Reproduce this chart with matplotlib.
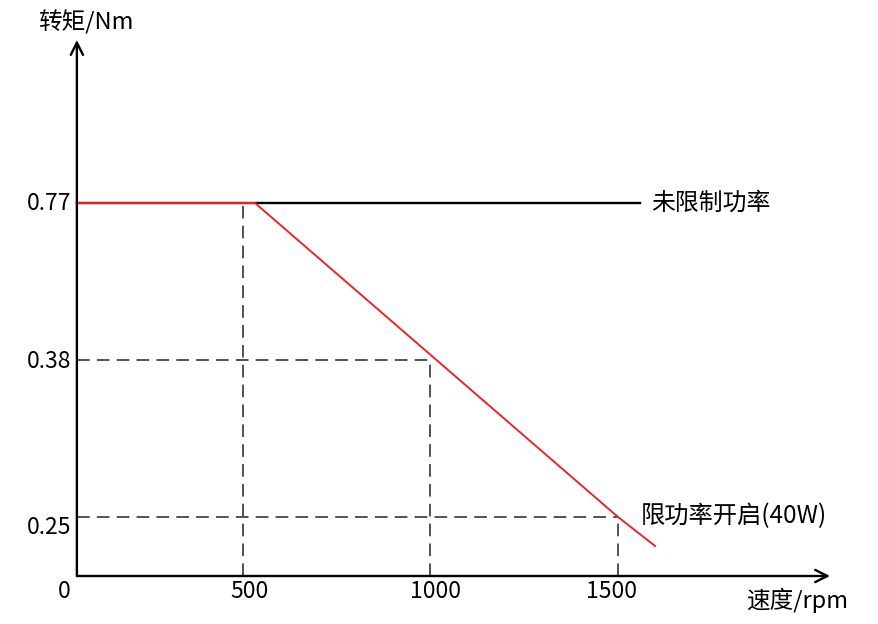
import numpy as np
import matplotlib
matplotlib.use("Agg")
import matplotlib.pyplot as plt

plt.rcParams['font.family'] = ['Noto Sans CJK SC', 'DejaVu Sans']

# ---- data ----
x_ticks = [500, 1000, 1500]
x_tick_labels = ["500", "1000", "1500"]
y_ticks = [0.77, 0.38, 0.25]
y_tick_labels = ["0.77", "0.38", "0.25"]

limited_speed = [57, 532, 1500, 1599]          # rpm
limited_torque = [0.77, 0.77, 0.25, 0.127]     # Nm
unlimited_speed = [57, 1559]
unlimited_torque = [0.77, 0.77]

label_unlimited = "未限制功率"
label_limited = "限功率开启(40W)"
y_title = "转矩/Nm"
x_title = "速度/rpm"

# ---- schematic (piecewise) torque scale ----
yv = np.array([-1.0, 0.0, 0.25, 0.38, 0.77, 2.0])
yp = np.array([-236.0, 0.0, 59.0, 216.0, 373.0, 373.0 + 1.23 * 400.0])

def fwd(y):
    return np.interp(y, yv, yp)

def inv(p):
    return np.interp(p, yp, yv)

fig = plt.figure(figsize=(8.79, 6.24), dpi=100)
ax = fig.add_axes([0, 0, 1, 1])
ax.set_yscale('function', functions=(fwd, inv))
ax.set_xlim((0 - 55.5) / 0.375, (879 - 55.5) / 0.375)
ax.set_ylim(inv(-48), inv(576))
ax.axis('off')

x0 = limited_speed[0]
x_end = (830 - 55.5) / 0.375
y_top = inv(576 - 40)

# axes with arrows
ax.annotate("", xy=(x_end, 0), xytext=(x0, 0),
            arrowprops=dict(arrowstyle="->", lw=1.7, color="black",
                            mutation_scale=22, shrinkA=0, shrinkB=0))
ax.annotate("", xy=(x0, y_top), xytext=(x0, 0),
            arrowprops=dict(arrowstyle="->", lw=1.7, color="black",
                            mutation_scale=22, shrinkA=0, shrinkB=0))

# dashed guides
dash = dict(color="#444444", lw=1.3, linestyle=(0, (7, 4)))
ax.plot([x_ticks[0], x_ticks[0]], [0, y_ticks[0]], **dash)
ax.plot([x0, x_ticks[1]], [y_ticks[1], y_ticks[1]], **dash)
ax.plot([x_ticks[1], x_ticks[1]], [0, y_ticks[1]], **dash)
ax.plot([x0, x_ticks[2]], [y_ticks[2], y_ticks[2]], **dash)
ax.plot([x_ticks[2], x_ticks[2]], [0, y_ticks[2]], **dash)

# curves
ax.plot(unlimited_speed, unlimited_torque, color="black", lw=1.7)
ax.plot(limited_speed, limited_torque, color="#e8262a", lw=1.4)

# tick labels
fs_num = 16.5
x_label_dx = [7, 5, -6]      # pixel nudges of the labels
for xv, lab, dx in zip(x_ticks, x_tick_labels, x_label_dx):
    ax.text(xv + dx / 0.375, inv(-16), lab, ha="center", va="center", fontsize=fs_num)
ax.text((64 - 55.5) / 0.375, inv(-16), "0", ha="center", va="center", fontsize=fs_num)
y_label_dy = [0, -2, -10]    # pixel nudges of the labels
for yvv, lab, dy in zip(y_ticks, y_tick_labels, y_label_dy):
    ax.text((71 - 55.5) / 0.375, inv(fwd(yvv) + dy), lab, ha="right", va="center",
            fontsize=fs_num)

# annotations
ax.text((651 - 55.5) / 0.375, unlimited_torque[0], label_unlimited,
        ha="left", va="center", fontsize=17.2)
ax.text((641 - 55.5) / 0.375, inv(576 - 516), label_limited,
        ha="left", va="center", fontsize=17.5)
ax.text((38 - 55.5) / 0.375, inv(576 - 22), y_title,
        ha="left", va="center", fontsize=17)
ax.text((746 - 55.5) / 0.375, inv(576 - 600), x_title,
        ha="left", va="center", fontsize=17)

fig.savefig("out.png", dpi=100)
